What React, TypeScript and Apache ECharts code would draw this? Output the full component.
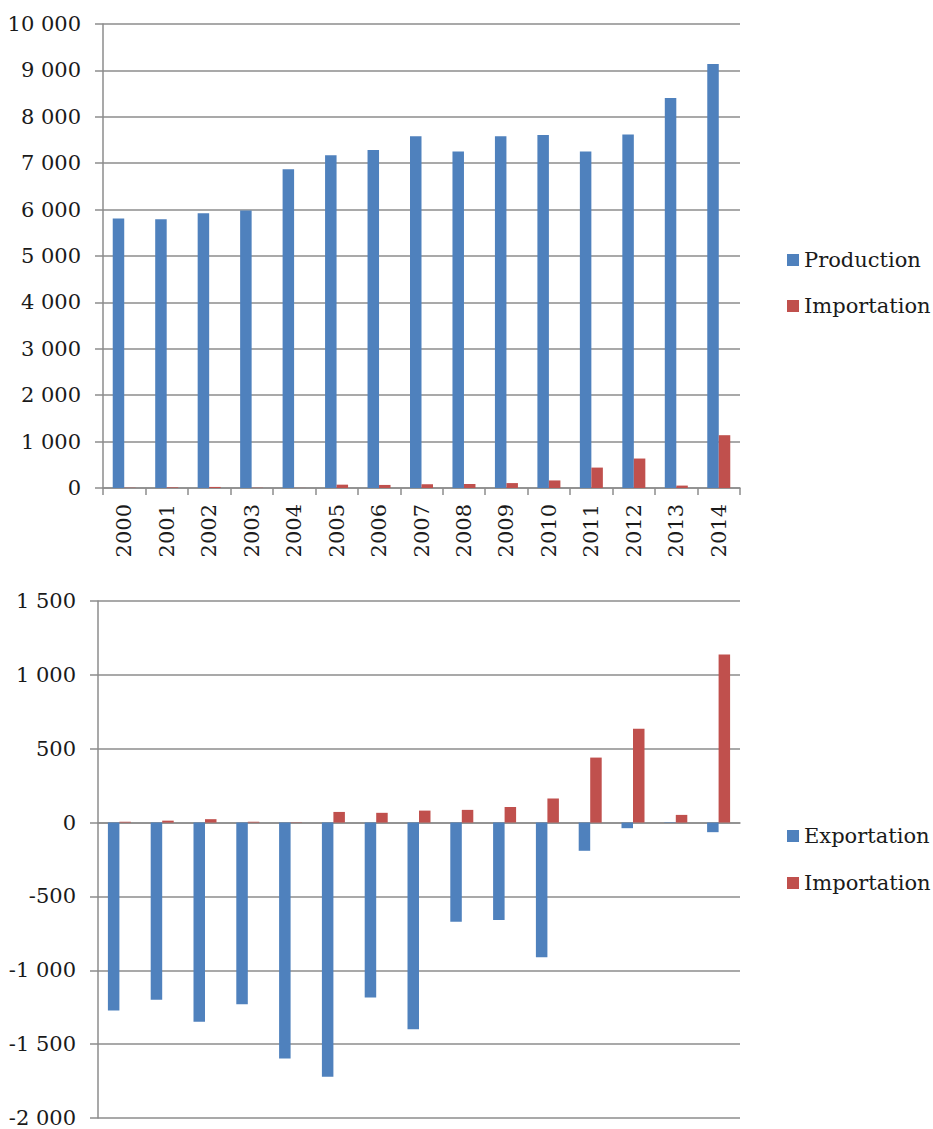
import React, { useEffect, useRef } from "react";
import * as echarts from "echarts";

const years = ["2000","2001","2002","2003","2004","2005","2006","2007","2008","2009","2010","2011","2012","2013","2014"];
const production = [5806, 5793, 5922, 5978, 6871, 7172, 7287, 7582, 7250, 7582, 7610, 7250, 7618, 8407, 9138];
const importation = [5, 13, 23, 5, 2, 72, 66, 81, 86, 106, 163, 440, 635, 52, 1138];
const exportation = [-1272, -1200, -1349, -1230, -1597, -1720, -1185, -1400, -671, -660, -912, -191, -38, -3, -65];

const BLUE = "#4F81BD";
const RED = "#C0504D";
const GREY = "#8c8c8c";
const FONT = "DejaVu Serif";

function fmt(v: number): string {
  const s = String(Math.abs(v)).replace(/\B(?=(\d{3})+(?!\d))/g, " ");
  return (v < 0 ? "-" : "") + s;
}

export default function App() {
  const ref = useRef<HTMLDivElement>(null);
  useEffect(() => {
    if (!ref.current) return;
    const chart = echarts.init(ref.current, null, { renderer: "svg" });
    const lineStyle = { color: GREY, width: 1.5 };
    const yLabel = { fontFamily: FONT, fontSize: 21, color: "#1a1a1a", margin: 22, formatter: fmt };
    chart.setOption({
      animation: false,
      backgroundColor: "#ffffff",
      textStyle: { fontFamily: FONT },
      grid: [
        { left: 103, right: 193, top: 24, height: 464 },
        { left: 98, right: 193, top: 601, height: 517 },
      ],
      xAxis: [
        {
          type: "category", gridIndex: 0, data: years, boundaryGap: true,
          axisLine: { show: true, lineStyle },
          axisTick: { show: true, length: 7, lineStyle, alignWithLabel: false },
          axisLabel: { rotate: 90, margin: 16, fontFamily: FONT, fontSize: 21, color: "#1a1a1a", interval: 0 },
        },
        {
          type: "category", gridIndex: 1, data: years, boundaryGap: true,
          axisLine: { show: true, onZero: true, lineStyle },
          axisTick: { show: false },
          axisLabel: { show: false },
        },
      ],
      yAxis: [
        {
          type: "value", gridIndex: 0, min: 0, max: 10000, interval: 1000,
          axisLine: { show: true, lineStyle },
          axisTick: { show: true, length: 8, lineStyle },
          splitLine: { show: true, lineStyle },
          axisLabel: yLabel,
        },
        {
          type: "value", gridIndex: 1, min: -2000, max: 1500, interval: 500,
          axisLine: { show: true, lineStyle },
          axisTick: { show: true, length: 8, lineStyle },
          splitLine: { show: true, lineStyle },
          axisLabel: yLabel,
        },
      ],
      legend: [
        {
          orient: "vertical", left: 782, top: 240, itemGap: 16,
          itemWidth: 12, itemHeight: 12, icon: "rect",
          data: ["Production", "Importation"],
          textStyle: { fontFamily: FONT, fontSize: 21, color: "#1a1a1a", lineHeight: 30 },
          selectedMode: false,
        },
        {
          orient: "vertical", left: 782, top: 816, itemGap: 17,
          itemWidth: 12, itemHeight: 12, icon: "rect",
          data: ["Exportation", "Importation"],
          textStyle: { fontFamily: FONT, fontSize: 21, color: "#1a1a1a", lineHeight: 30 },
          selectedMode: false,
        },
      ],
      series: [
        { name: "Production", type: "bar", xAxisIndex: 0, yAxisIndex: 0, data: production, barWidth: 11.5, barGap: "0%", itemStyle: { color: BLUE } },
        { name: "Importation", type: "bar", xAxisIndex: 0, yAxisIndex: 0, data: importation, barWidth: 11.5, barGap: "0%", itemStyle: { color: RED } },
        { name: "Exportation", type: "bar", xAxisIndex: 1, yAxisIndex: 1, data: exportation, barWidth: 11.5, barGap: "0%", itemStyle: { color: BLUE } },
        { name: "Importation", type: "bar", xAxisIndex: 1, yAxisIndex: 1, data: importation, barWidth: 11.5, barGap: "0%", itemStyle: { color: RED } },
      ],
    });
    return () => chart.dispose();
  }, []);
  return (
    <div
      ref={ref}
      style={{ position: "absolute", left: 0, top: 0, width: 933, height: 1129 }}
    />
  );
}
